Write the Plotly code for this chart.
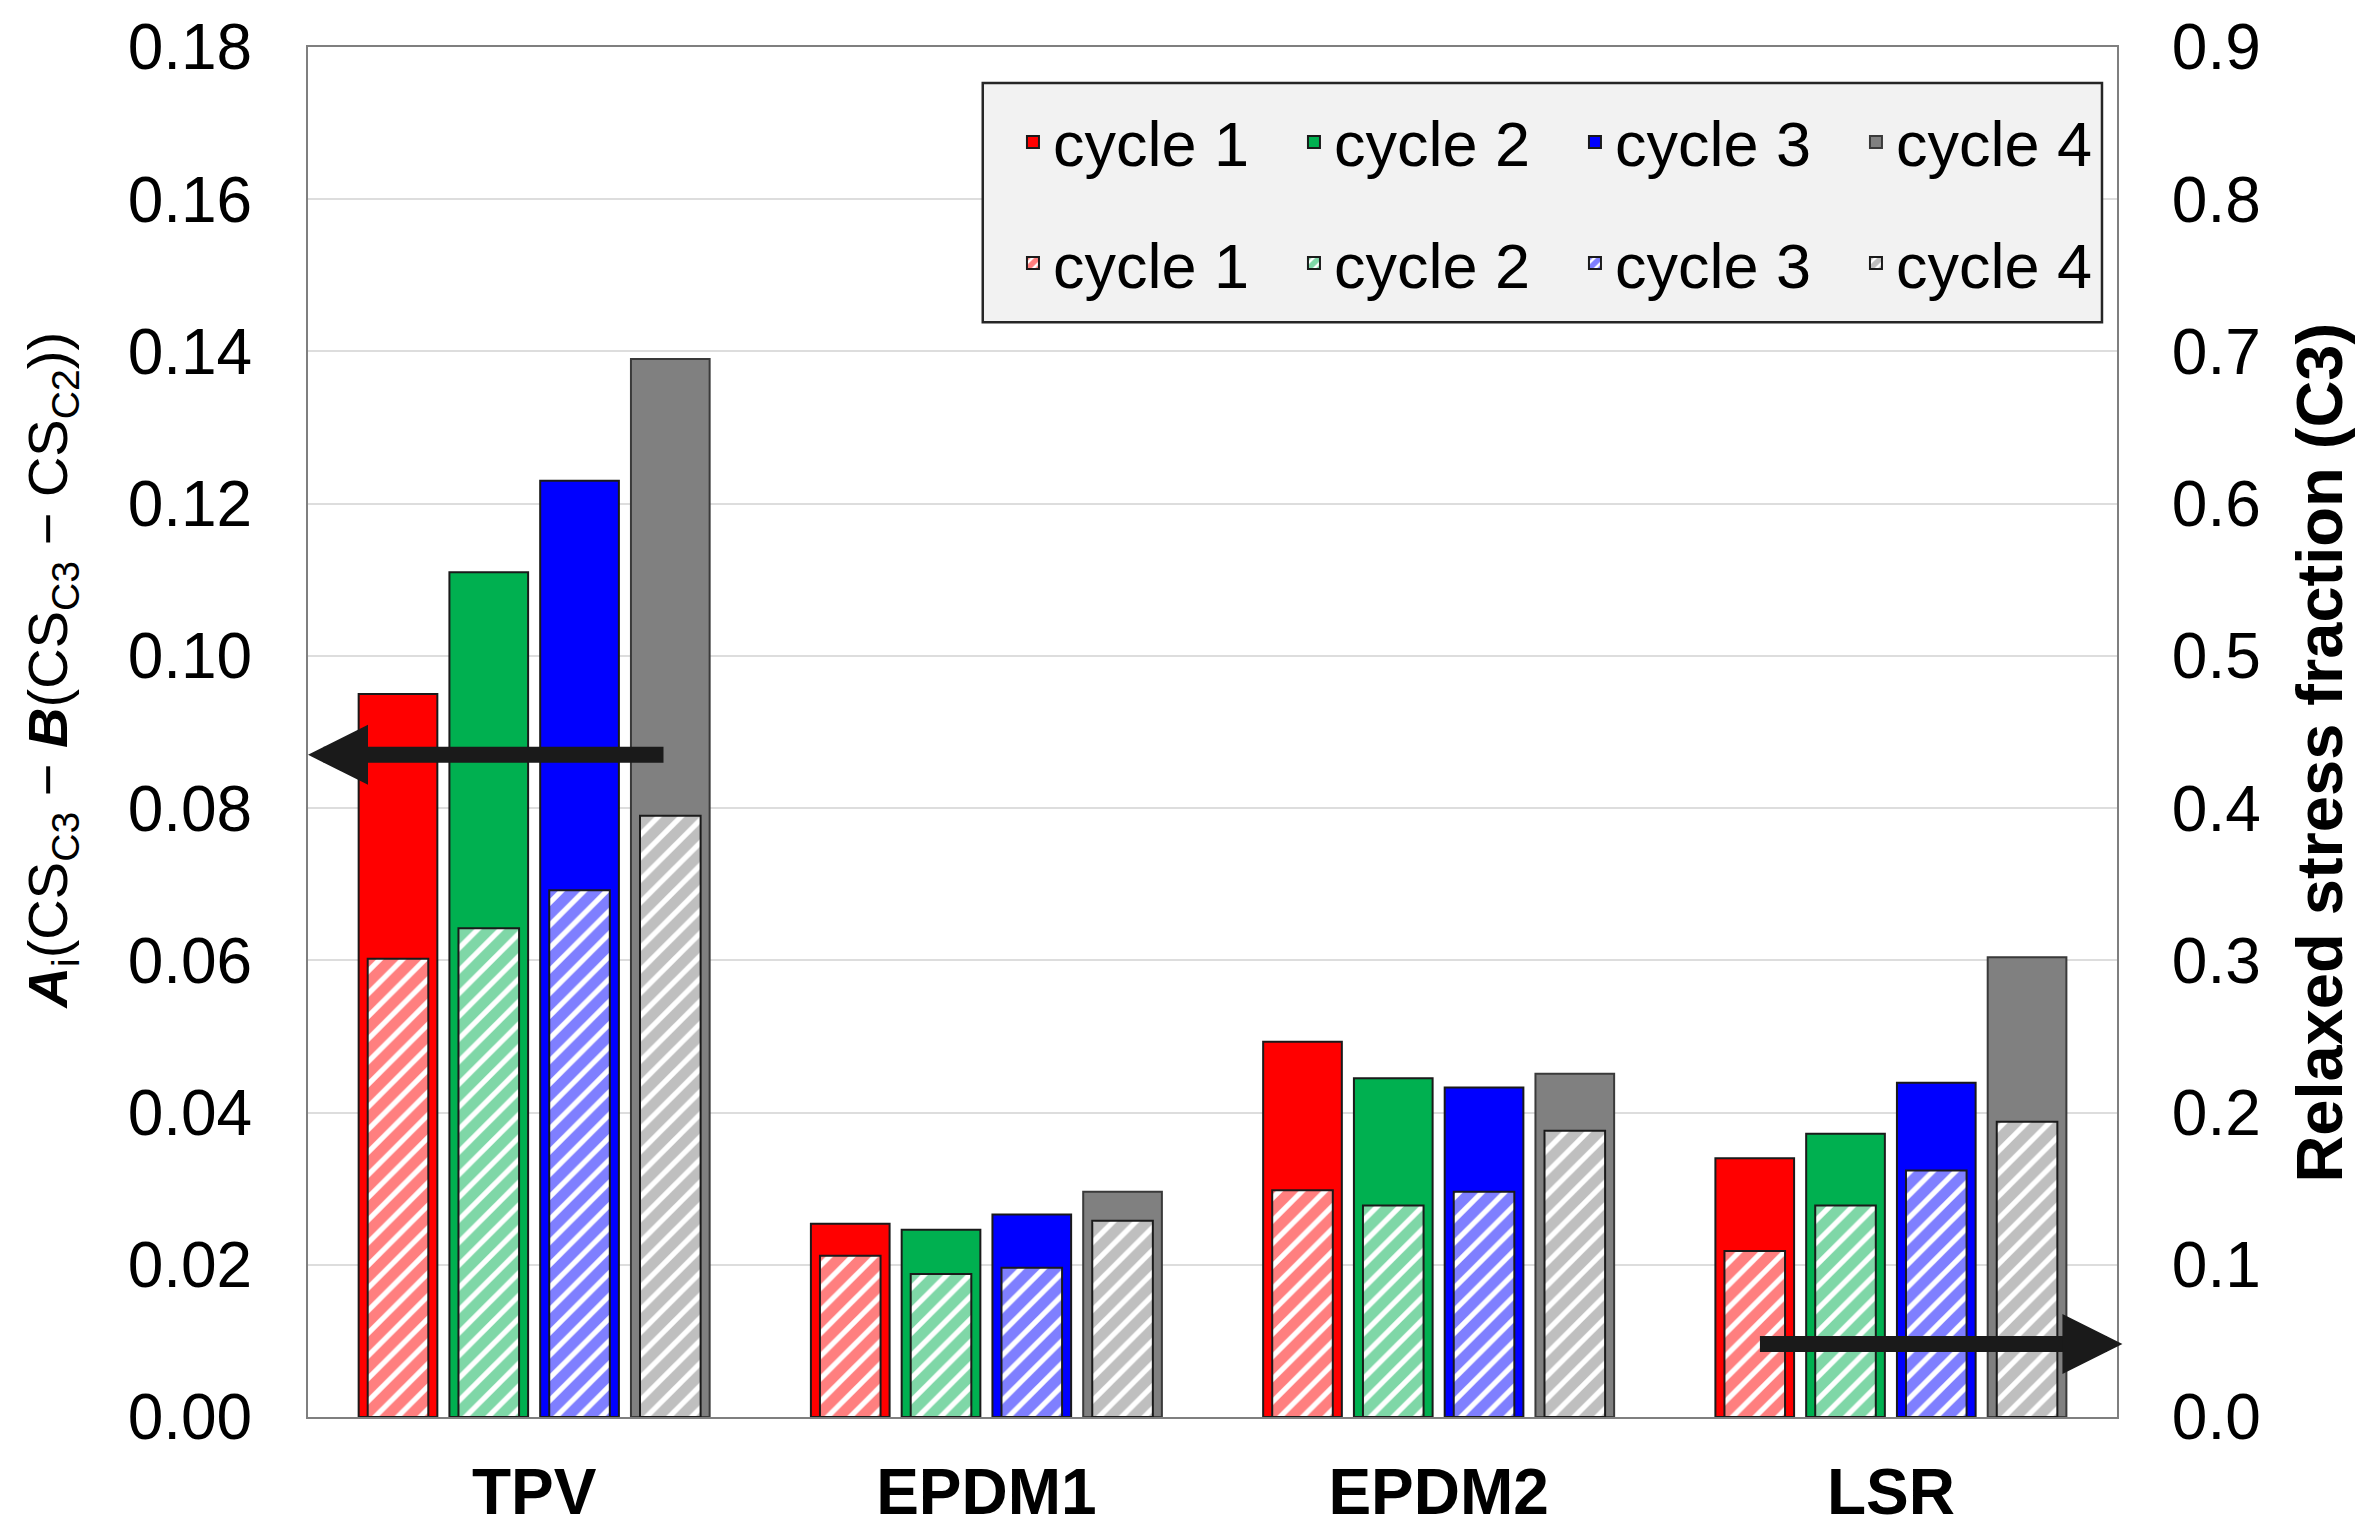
import plotly.graph_objects as go

categories = ["TPV", "EPDM1", "EPDM2", "LSR"]
cycle_names = ["cycle 1", "cycle 2", "cycle 3", "cycle 4"]

# Left axis: A_i(CS_C3 - B(CS_C3 - CS_C2))
ai_cycle1 = [0.095, 0.0254, 0.0493, 0.0340]
ai_cycle2 = [0.111, 0.0246, 0.0445, 0.0372]
ai_cycle3 = [0.123, 0.0266, 0.0433, 0.0439]
ai_cycle4 = [0.139, 0.0296, 0.0451, 0.0604]

# Right axis: relaxed stress fraction (C3)
rs_cycle1 = [0.301, 0.106, 0.149, 0.109]
rs_cycle2 = [0.321, 0.094, 0.139, 0.139]
rs_cycle3 = [0.346, 0.098, 0.148, 0.162]
rs_cycle4 = [0.395, 0.129, 0.188, 0.194]

left_ticks = [0.00, 0.02, 0.04, 0.06, 0.08, 0.10, 0.12, 0.14, 0.16, 0.18]
right_ticks = [0.0, 0.1, 0.2, 0.3, 0.4, 0.5, 0.6, 0.7, 0.8, 0.9]

colors = ["#FF0000", "#00B050", "#0000FF", "#808080"]
edge_colors = ["#1a1a1a", "#1a1a1a", "#1a1a1a", "#3a3a3a"]

ai_series = [ai_cycle1, ai_cycle2, ai_cycle3, ai_cycle4]
rs_series = [rs_cycle1, rs_cycle2, rs_cycle3, rs_cycle4]

FONT = "Liberation Sans, Arial, sans-serif"

solid_w = 0.174
pitch = 0.2007
start = -0.388
hatch_w = 0.134

fig = go.Figure()

for i in range(4):
    fig.add_trace(go.Bar(
        x=categories, y=ai_series[i], name=cycle_names[i],
        width=solid_w, offset=start + i * pitch,
        marker=dict(color=colors[i], line=dict(color=edge_colors[i], width=2)),
        yaxis="y", legend="legend",
    ))

for i in range(4):
    fig.add_trace(go.Bar(
        x=categories, y=rs_series[i], name=cycle_names[i],
        width=hatch_w, offset=start + i * pitch + (solid_w - hatch_w) / 2,
        marker=dict(color="white", line=dict(color="#1a1a1a", width=2),
                    pattern=dict(shape="/", fgcolor=colors[i], bgcolor="white",
                                 size=16, solidity=0.68)),
        yaxis="y2", legend="legend2",
    ))

left_title = ("<b><i>A</i></b><sub>i</sub>(CS<sub>C3</sub> \u2212 <b><i>B</i></b>"
              "(CS<sub>C3</sub> \u2212 CS<sub>C2</sub>))")

legend_common = dict(
    orientation="h", xanchor="left", yanchor="middle",
    bgcolor="rgba(0,0,0,0)", borderwidth=0,
    font=dict(size=63, family=FONT, color="black"),
    entrywidth=236, entrywidthmode="pixels", traceorder="normal",
)

# the page body adds an 8px offset, so the figure is 8px smaller and shifted
fig.update_layout(
    width=2363, height=1531,
    margin=dict(l=300, r=254, t=39, b=122, autoexpand=False),
    paper_bgcolor="white", plot_bgcolor="white",
    barmode="overlay",
    font=dict(family=FONT, color="black", size=64),
    showlegend=True,
    legend=dict(x=0.3897, y=0.9307, **legend_common),
    legend2=dict(x=0.3897, y=0.8423, **legend_common),
    xaxis=dict(
        type="category", range=[-0.5, 3.5],
        showline=True, linecolor="#7f7f7f", linewidth=2, mirror=True,
        ticks="", tickfont=dict(size=64, family=FONT),
        tickvals=categories, ticktext=["<b>%s</b>" % c for c in categories],
        ticklabelstandoff=18,
    ),
    yaxis=dict(
        range=[0, 0.18], tickvals=left_ticks, tickformat=".2f",
        showgrid=True, gridcolor="#DDDDDD", gridwidth=2,
        showline=True, linecolor="#7f7f7f", linewidth=2,
        ticks="", ticklabelstandoff=41, tickfont=dict(size=64, family=FONT),
        zeroline=False,
    ),
    yaxis2=dict(
        range=[0, 0.9], tickvals=right_ticks, tickformat=".1f",
        overlaying="y", side="right", showgrid=False,
        showline=True, linecolor="#7f7f7f", linewidth=2,
        ticks="", ticklabelstandoff=40, tickfont=dict(size=64, family=FONT),
        zeroline=False,
    ),
)

# legend box
fig.add_shape(type="rect", xref="paper", yref="paper",
              x0=0.373, x1=0.9917, y0=0.799, y1=0.9737,
              fillcolor="#F2F2F2", line=dict(color="#262626", width=2.5),
              layer="above")

# axis titles
fig.add_annotation(xref="paper", yref="paper", x=-0.142, y=0.545,
                   text=left_title, textangle=-90, showarrow=False,
                   font=dict(size=56, family=FONT, color="black"),
                   xanchor="center", yanchor="middle")
fig.add_annotation(xref="paper", yref="paper", x=1.1117, y=0.485,
                   text="<b>Relaxed stress fraction (C3)</b>", textangle=-90,
                   showarrow=False, font=dict(size=65, family=FONT, color="black"),
                   xanchor="center", yanchor="middle")

# arrows indicating which axis each bar set refers to
fig.add_annotation(xref="paper", yref="y", x=0, y=0.087, ax=357, ay=0,
                   axref="pixel", ayref="pixel", text="", showarrow=True,
                   arrowhead=2, arrowsize=0.75, arrowwidth=16, arrowcolor="#1a1a1a",
                   standoff=0)
fig.add_annotation(xref="paper", yref="y2", x=1.003, y=0.048, ax=-364, ay=0,
                   axref="pixel", ayref="pixel", text="", showarrow=True,
                   arrowhead=2, arrowsize=0.75, arrowwidth=16, arrowcolor="#1a1a1a",
                   standoff=0)

fig.write_html("out.html")
